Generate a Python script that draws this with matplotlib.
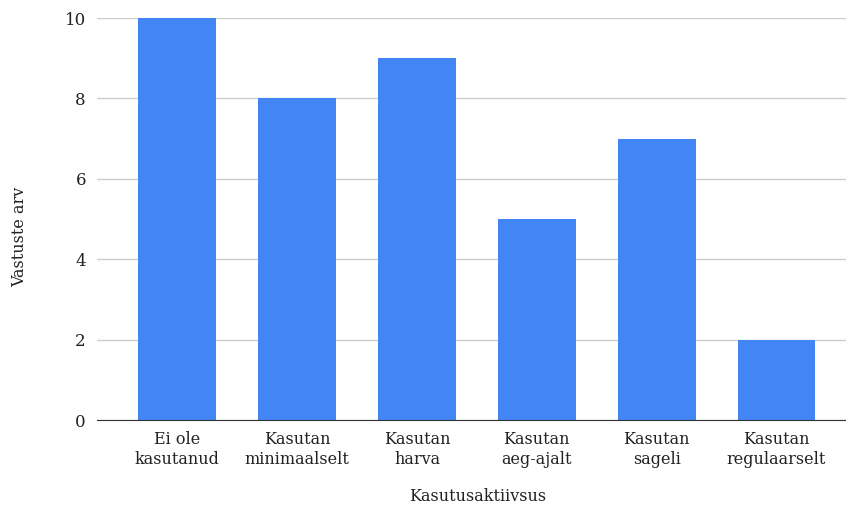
import matplotlib.pyplot as plt

categories = ["Ei ole\nkasutanud", "Kasutan\nminimaalselt", "Kasutan\nharva",
              "Kasutan\naeg-ajalt", "Kasutan\nsageli", "Kasutan\nregulaarselt"]
counts = [10, 8, 9, 5, 7, 2]
y_ticks = [0, 2, 4, 6, 8, 10]

plt.rcParams['font.family'] = ['DejaVu Serif']

fig = plt.figure(figsize=(8.46, 5.11), dpi=100)
ax = fig.add_axes([97 / 846, 91 / 511, 749 / 846, 402 / 511])

x = list(range(len(categories)))
ax.bar(x, counts, width=0.65, color="#4285F4", zorder=3)

ax.set_xlim(-0.67, 5.58)
ax.set_ylim(0, 10)
ax.set_yticks(y_ticks)
ax.set_xticks(x)
ax.set_xticklabels(categories, fontsize=11.5, color="#222222", linespacing=1.25)
ax.tick_params(axis='y', labelsize=12, colors="#222222", length=0, pad=8)
ax.tick_params(axis='x', length=0, pad=8)

ax.grid(axis='y', color="#cccccc", linewidth=1, zorder=0)
for side in ["top", "right", "left"]:
    ax.spines[side].set_visible(False)
ax.spines["bottom"].set_color("#333333")
ax.spines["bottom"].set_zorder(4)

ax.set_ylabel("Vastuste arv", fontsize=11.5, color="#222222")
ax.yaxis.set_label_coords(-0.092, 0.455)
ax.set_xlabel("Kasutusaktiivsus", fontsize=11.5, color="#222222")
ax.xaxis.set_label_coords(0.508, -0.17)

fig.savefig("out.png", dpi=100)
